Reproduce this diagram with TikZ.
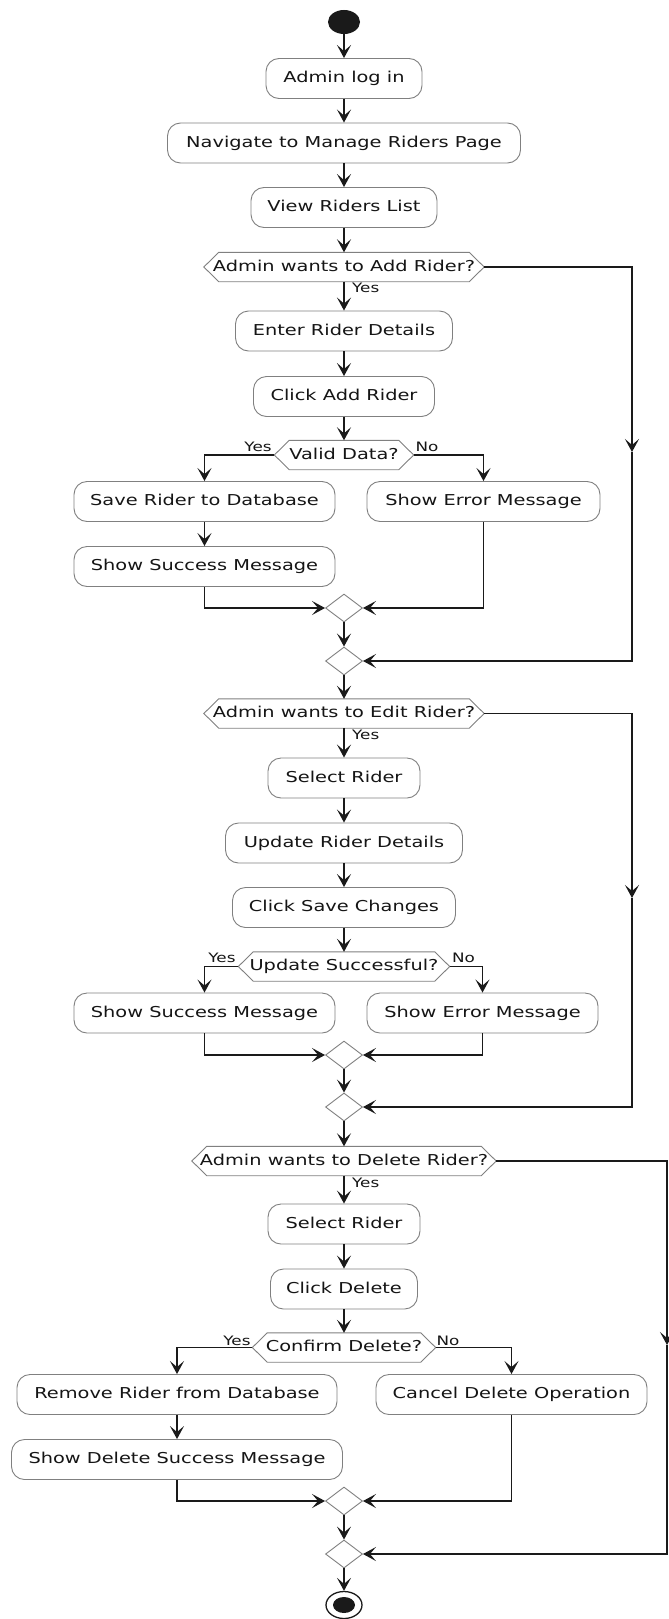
\documentclass[tikz,border=0pt]{standalone}
\usepackage{fontspec}
\setmainfont{DejaVu Sans}[FakeStretch=1.29]
\usetikzlibrary{shapes.geometric, arrows.meta}
\definecolor{linec}{HTML}{1A1A1A}
\definecolor{boxc}{HTML}{808080}
\definecolor{txtc}{HTML}{151515}
\newcommand\hexnode[5]{%
  \node[hexl, minimum width=#4pt] (#1) at (#2,#3) {#5};
  \draw[hexb] (#1.west) -- ([xshift=15pt]#1.north west) -- ([xshift=-15pt]#1.north east)
    -- (#1.east) -- ([xshift=-15pt]#1.south east) -- ([xshift=15pt]#1.south west) -- cycle;}
\begin{document}
\begin{tikzpicture}[x=1pt, y=-1pt,
  act/.style={draw=boxc, line width=0.9pt, fill=white, rounded corners=13pt, minimum height=40pt, inner sep=0pt, text=txtc, font=\fontsize{15}{18}\selectfont, text height=11pt, text depth=3pt},
  hexl/.style={minimum height=29pt, inner sep=0pt, text=txtc, font=\fontsize{15}{18}\selectfont, text height=11pt, text depth=3pt},
  hexb/.style={draw=boxc, line width=0.9pt},
  merge/.style={diamond, draw=boxc, line width=0.9pt, fill=white, minimum width=37pt, minimum height=28pt, inner sep=0pt},
  lbl/.style={text=txtc, font=\fontsize{13}{15}\selectfont, inner sep=0pt},
  arr/.style={draw=linec, line width=1.3pt, -{Stealth[length=13pt, width=14pt, inset=6pt]}},
  startn/.style={ellipse, fill=linec, minimum width=32pt, minimum height=24pt, inner sep=0pt},
  endn/.style={ellipse, draw=linec, line width=1.3pt, fill=white, minimum width=36pt, minimum height=27pt, inner sep=0pt},
]
\useasboundingbox (0,0) rectangle (669,1619);
\fill[white] (0,0) rectangle (669,1619);

% ---------- top ----------
\node[startn] (start) at (344,22) {};
\node[act, minimum width=156pt] (a1) at (344,78.5) {Admin log in};
\node[act, minimum width=353pt] (a2) at (344,143) {Navigate to Manage Riders Page};
\node[act, minimum width=186pt] (a3) at (344,207.5) {View Riders List};
\hexnode{q1}{344}{267}{280}{Admin wants to Add Rider?}
\node[act, minimum width=217pt] (a4) at (344,331) {Enter Rider Details};
\node[act, minimum width=181pt] (a5) at (344,396.5) {Click Add Rider};
\hexnode{q2}{344}{455}{139}{Valid Data?}
\node[act, minimum width=261pt] (a6) at (204.5,501.5) {Save Rider to Database};
\node[act, minimum width=233pt] (a7) at (483.5,501.5) {Show Error Message};
\node[act, minimum width=261pt] (a8) at (204.5,566.5) {Show Success Message};
\node[merge] (m1) at (344,608) {};
\node[merge] (m2) at (344,661) {};

\node[lbl, anchor=west] (ya) at (352,288) {Yes};
\node[lbl] (yb) at (258,447) {Yes};
\node[lbl] (nb) at (427,447) {No};

\draw[arr] (start.south) -- (a1.north);
\draw[arr] (a1.south) -- (a2.north);
\draw[arr] (a2.south) -- (a3.north);
\draw[arr] (a3.south) -- (q1.north);
\draw[arr] (q1.south) -- (a4.north);
\draw[arr] (a4.south) -- (a5.north);
\draw[arr] (a5.south) -- (q2.north);
\draw[arr] (q2.west) -| (a6.north);
\draw[arr] (q2.east) -| (a7.north);
\draw[arr] (a6.south) -- (a8.north);
\draw[arr] (a8.south) |- (m1.west);
\draw[arr] (a7.south) |- (m1.east);
\draw[arr] (m1.south) -- (m2.north);
\coordinate (r1m) at (632,452);
\draw[arr] (q1.east) -| (r1m);
\draw[arr] (r1m) |- (m2.east);

% ---------- edit ----------
\hexnode{q3}{344}{713.5}{280}{Admin wants to Edit Rider?}
\node[act, minimum width=152pt] (b1) at (344,778) {Select Rider};
\node[act, minimum width=237pt] (b2) at (344,843) {Update Rider Details};
\node[act, minimum width=223pt] (b3) at (344,907.5) {Click Save Changes};
\hexnode{q4}{344}{966.5}{211}{Update Successful?}
\node[act, minimum width=261pt] (b4) at (204.5,1013) {Show Success Message};
\node[act, minimum width=231pt] (b5) at (482.5,1013) {Show Error Message};
\node[merge] (m3) at (344,1055) {};
\node[merge] (m4) at (344,1107) {};

\node[lbl, anchor=west] (yc) at (352,735) {Yes};
\node[lbl] (yd) at (222,958) {Yes};
\node[lbl] (nd) at (463.5,958) {No};

\draw[arr] (m2.south) -- (q3.north);
\draw[arr] (q3.south) -- (b1.north);
\draw[arr] (b1.south) -- (b2.north);
\draw[arr] (b2.south) -- (b3.north);
\draw[arr] (b3.south) -- (q4.north);
\draw[arr] (q4.west) -| (b4.north);
\draw[arr] (q4.east) -| (b5.north);
\draw[arr] (b4.south) |- (m3.west);
\draw[arr] (b5.south) |- (m3.east);
\draw[arr] (m3.south) -- (m4.north);
\coordinate (r2m) at (632,898);
\draw[arr] (q3.east) -| (r2m);
\draw[arr] (r2m) |- (m4.east);

% ---------- delete ----------
\hexnode{q5}{344}{1161}{304}{Admin wants to Delete Rider?}
\node[act, minimum width=152pt] (c1) at (344,1224) {Select Rider};
\node[act, minimum width=147pt] (c2) at (344,1289) {Click Delete};
\hexnode{q6}{344}{1347.5}{183}{Confirm Delete?}
\node[act, minimum width=320pt] (c3) at (177,1394.5) {Remove Rider from Database};
\node[act, minimum width=271pt] (c4) at (511.5,1394.5) {Cancel Delete Operation};
\node[act, minimum width=331pt] (c5) at (177,1459.5) {Show Delete Success Message};
\node[merge] (m5) at (344,1501) {};
\node[merge] (m6) at (344,1554) {};
\node[endn] (end) at (344,1605) {};
\fill[linec] (end.center) ellipse [x radius=11pt, y radius=8pt];

\node[lbl, anchor=west] (ye) at (352,1183) {Yes};
\node[lbl] (yf) at (237,1341) {Yes};
\node[lbl] (nf) at (448,1341) {No};

\draw[arr] (m4.south) -- (q5.north);
\draw[arr] (q5.south) -- (c1.north);
\draw[arr] (c1.south) -- (c2.north);
\draw[arr] (c2.south) -- (q6.north);
\draw[arr] (q6.west) -| (c3.north);
\draw[arr] (q6.east) -| (c4.north);
\draw[arr] (c3.south) -- (c5.north);
\draw[arr] (c5.south) |- (m5.west);
\draw[arr] (c4.south) |- (m5.east);
\draw[arr] (m5.south) -- (m6.north);
\draw[arr] (m6.south) -- (end.north);
\coordinate (r3m) at (667,1345);
\draw[arr] (q5.east) -| (r3m);
\draw[arr] (r3m) |- (m6.east);
\end{tikzpicture}
\end{document}
